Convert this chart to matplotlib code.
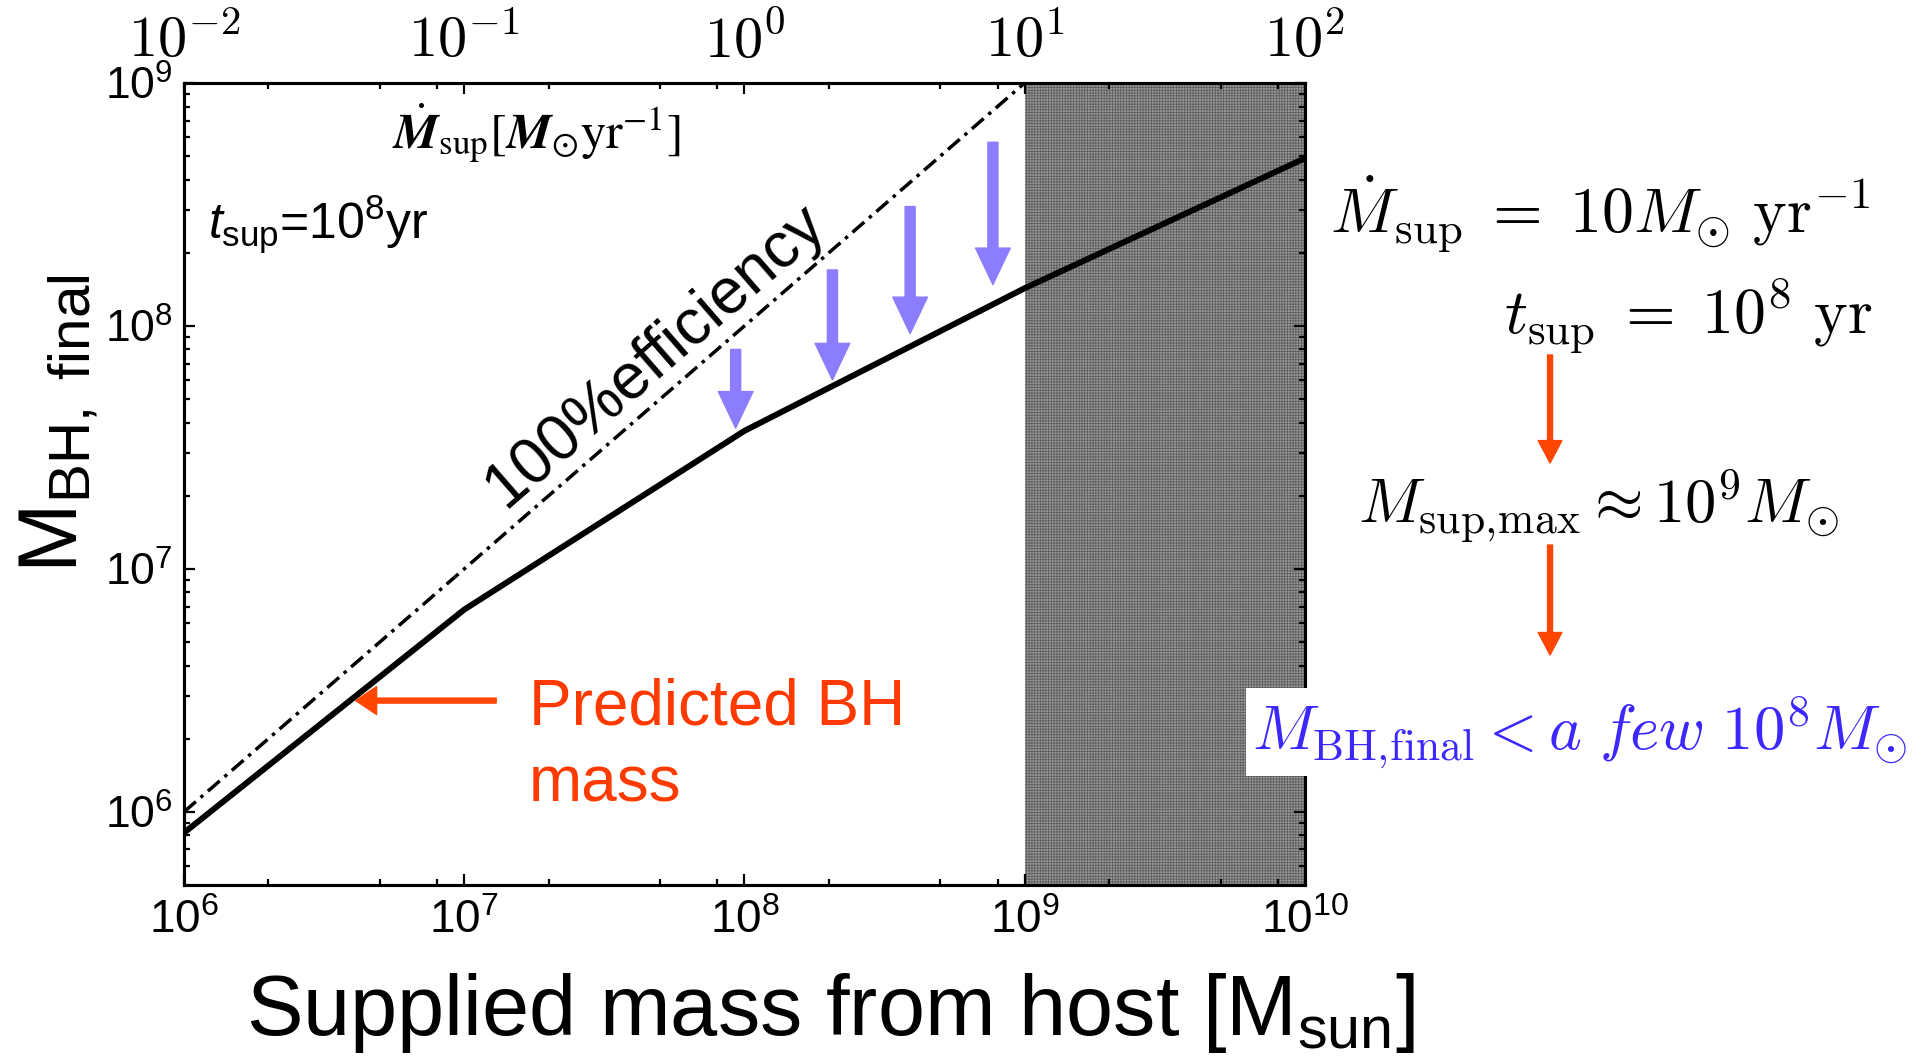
import numpy as np
import matplotlib
matplotlib.use('Agg')
import matplotlib.pyplot as plt
from matplotlib.ticker import LogLocator, NullFormatter

# supplied mass from host [Msun] and resulting final BH mass
m_sup = [1e6, 1e7, 1e8, 1e9, 1e10]
m_bh = [8.2e5, 6.8e6, 3.7e7, 1.43e8, 4.9e8]

# 100% efficiency line: M_BH = M_sup
eff_x = [1e6, 1e9]
eff_y = [1e6, 1e9]

t_sup = 1e8  # yr
mdot_ticks = [1e-2, 1e-1, 1e0, 1e1, 1e2]
mdot_labels = [r'$10^{-2}$', r'$10^{-1}$', r'$10^{0}$', r'$10^{1}$', r'$10^{2}$']

# shaded region of unreachable supply
shade_x = [1e9, 1e10]

# downward arrows from 100% efficiency towards the predicted curve
arrow_x = [9.3e7, 2.06e8, 3.9e8, 7.7e8]
arrow_top = [8.0e7, 1.7e8, 3.1e8, 5.7e8]
arrow_tip = [3.8e7, 6.0e7, 9.3e7, 1.48e8]

plt.rcParams['font.family'] = ['Liberation Sans', 'DejaVu Sans']
plt.rcParams['mathtext.fontset'] = 'custom'
plt.rcParams['mathtext.rm'] = 'Liberation Sans'
plt.rcParams['mathtext.it'] = 'Liberation Sans:italic'
plt.rcParams['mathtext.bf'] = 'Liberation Sans:bold'
plt.rcParams['hatch.linewidth'] = 0.6

purple = '#8c7dff'
orange = '#ff4600'
orange_txt = '#ff3a00'
blue = '#3c28ff'

fig = plt.figure(figsize=(19.21, 10.61), dpi=100)
ax = fig.add_axes([0.0958, 0.1659, 0.5835, 0.7559])

ax.axvspan(shade_x[0], shade_x[1], facecolor='#9a9a9a', edgecolor='#5e5e5e',
           hatch='+' * 6, lw=0, zorder=0)
ax.plot(m_sup, m_bh, color='black', lw=4.3, solid_joinstyle='round', zorder=3)
ax.plot(eff_x, eff_y, color='black', lw=2.5, linestyle=(0, (4.5, 1.8, 1.0, 1.8)),
        zorder=3)

ax.set_xscale('log')
ax.set_yscale('log')
ax.set_xlim(1e6, 1e10)
ax.set_ylim(5e5, 1e9)

for sp in ax.spines.values():
    sp.set_linewidth(2.2)

ax.xaxis.set_minor_locator(LogLocator(base=10, subs=(2, 5, 8)))
ax.xaxis.set_minor_formatter(NullFormatter())
ax.yaxis.set_minor_locator(LogLocator(base=10, subs=np.arange(2, 10)))
ax.yaxis.set_minor_formatter(NullFormatter())
ax.tick_params(which='both', direction='in', top=False, right=True, width=1.6)
ax.tick_params(which='major', length=8)
ax.tick_params(which='minor', length=4.5)
ax.tick_params(axis='x', labelsize=33, pad=10)
ax.tick_params(axis='y', labelsize=32, pad=8)

# top axis: supply rate = M_sup / t_sup
ax2 = ax.twiny()
ax2.set_xscale('log')
ax2.set_xlim(m_sup[0] / t_sup, m_sup[-1] / t_sup)
ax2.set_xticks(mdot_ticks)
ax2.set_xticklabels(mdot_labels, math_fontfamily='cm')
ax2.xaxis.set_minor_locator(LogLocator(base=10, subs=(2, 5, 8)))
ax2.xaxis.set_minor_formatter(NullFormatter())
ax2.tick_params(which='both', direction='in', width=1.6, labelsize=42, pad=10)
ax2.tick_params(which='major', length=8)
ax2.tick_params(which='minor', length=4.5)
for sp in ax2.spines.values():
    sp.set_linewidth(2.2)

# arrows showing the drop from 100% efficiency
for x, y0, y1 in zip(arrow_x, arrow_top, arrow_tip):
    ax.annotate('', xy=(x, y1), xytext=(x, y0),
                arrowprops=dict(arrowstyle='simple,head_length=1.05,head_width=1.0,tail_width=0.29',
                                color=purple, shrinkA=0, shrinkB=0, mutation_scale=25),
                zorder=4)

ax.text(0.42, 0.66, '100%efficiency', transform=ax.transAxes, fontsize=46,
        rotation=41, ha='center', va='center', rotation_mode='anchor')

ax.text(0.0214, 0.8055, r'$t_{\rm sup}$=10$^8$yr', transform=ax.transAxes,
        fontsize=36, ha='left', va='baseline')
ax.text(0.1855, 0.9177,
        r'$\dot{\boldsymbol{M}}_{\rm sup}[\boldsymbol{M}_{\odot}{\rm yr}^{-1}]$',
        transform=ax.transAxes, fontsize=36, ha='left', va='baseline',
        math_fontfamily='stix')

# predicted BH mass pointer
ax.annotate('', xy=(4.1e6, 2.87e6), xytext=(1.3e7, 2.87e6),
            arrowprops=dict(arrowstyle='simple,head_length=0.75,head_width=1.0,tail_width=0.18',
                            color=orange, shrinkA=0, shrinkB=0, mutation_scale=20))
ax.text(0.3078, 0.1995, 'Predicted BH', transform=ax.transAxes, fontsize=46,
        color=orange_txt, ha='left', va='baseline')
ax.text(0.3078, 0.1035, 'mass', transform=ax.transAxes, fontsize=46,
        color=orange_txt, ha='left', va='baseline')

# axis labels
fig.text(0.0307, 0.601, r'M$_{\rm BH,\ final}$', rotation=90, fontsize=60,
         ha='center', va='center')
fig.text(0.432, 0.0245, r'Supplied mass from host [M$_{\rm sun}$]', fontsize=61,
         ha='center', va='baseline')

# derivation on the right
fig.text(0.9735, 0.780, r'$\dot{M}_{\rm sup} \;=\; 10 M_{\odot}\ {\rm yr}^{-1}$',
         fontsize=46, ha='right', va='baseline', math_fontfamily='cm')
fig.text(0.9745, 0.685, r'$t_{\rm sup} \;=\; 10^{8}\ {\rm yr}$',
         fontsize=46, ha='right', va='baseline', math_fontfamily='cm')
fig.text(0.832, 0.506, r'$M_{\rm sup,\!max} \approx 10^{9} M_{\odot}$',
         fontsize=45, ha='center', va='baseline', math_fontfamily='cm')
fig.text(0.6517, 0.294, r'$M_{\rm BH,\!final} < a\ few\ 10^{8} M_{\odot}$',
         fontsize=45, ha='left', va='baseline', math_fontfamily='cm', color=blue,
         bbox=dict(facecolor='white', edgecolor='none', pad=4), zorder=10)

for ya, yb in [(0.6654, 0.5636), (0.4863, 0.3827)]:
    ax.annotate('', xy=(0.8069, yb), xytext=(0.8069, ya),
                xycoords='figure fraction', textcoords='figure fraction',
                arrowprops=dict(arrowstyle='simple,head_length=0.95,head_width=1.0,tail_width=0.21',
                                color=orange, shrinkA=0, shrinkB=0, mutation_scale=17),
                annotation_clip=False)

fig.savefig('out.png', dpi=100)
